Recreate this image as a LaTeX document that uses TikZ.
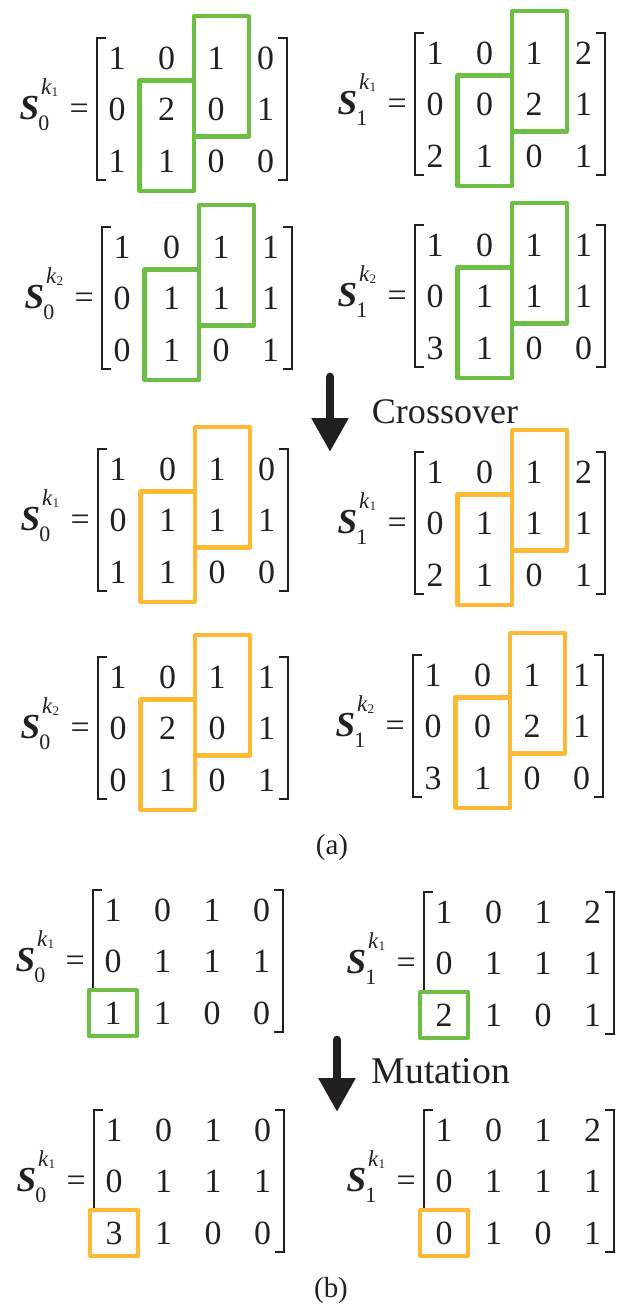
\documentclass[tikz,border=0pt]{standalone}
\usepackage{fontspec}
\setmainfont{Liberation Serif}
\usetikzlibrary{arrows.meta}
\definecolor{palG}{HTML}{6DBE45}
\definecolor{palO}{HTML}{FDB933}
\definecolor{ink}{HTML}{231F20}
\pgfdeclarelayer{bg}
\pgfdeclarelayer{mid}
\pgfsetlayers{bg,mid,main}

% S with sub- and superscript, then "="
\newcommand{\slab}[2]{%
  {\fontsize{20}{22}\selectfont\bfseries\itshape S}\kern1pt%
  \rlap{\kern-1.5pt\raisebox{-6pt}{\fontsize{12.5}{14}\selectfont #1}}%
  \raisebox{14.5pt}{\fontsize{13}{14}\selectfont\itshape k\kern0.2pt\raisebox{-1.2pt}{\fontsize{7.5}{8}\selectfont\upshape #2}}%
  \hspace{6.5pt}=}

% name, x0, y0, sub, k, row 0, row 1, row 2
\newcommand{\smat}[8]{%
  \foreach \rowlist [count=\ri from 0] in {{#6},{#7},{#8}} {
    \foreach \val [count=\ci from 0] in \rowlist
      \node[entry] (#1-\ri-\ci) at ({#2+\ci*\dx}, {#3+\ri*\dy}) {\val};
  }
  \begin{pgfonlayer}{bg}
    \draw[brk] ({#2-11}, {#3-20}) -| ({#2-20}, {#3+122}) -- ++(9,0);
    \draw[brk] ({#2+161}, {#3-20}) -| ({#2+170}, {#3+122}) -- ++(-9,0);
  \end{pgfonlayer}
  \node[entry, anchor=base east] (#1-lab) at ({#2-28}, {#3+\dy+10}) {\slab{#4}{#5}};
}

% the two crossed column pieces
\newcommand{\swapbox}[2]{%
  \draw[#2] ([shift={(-22,-42)}]#1-0-2.center) rectangle ([shift={(33,27)}]#1-1-2.center);
  \draw[#2] ([shift={(-27,-29)}]#1-1-1.center) rectangle ([shift={(-22,30)}]#1-2-2.center);
}

% one mutated cell
\newcommand{\cellbox}[2]{%
  \begin{pgfonlayer}{mid}
    \draw[#2, fill=white] ([shift={(-24,-23)}]#1-2-0.center) rectangle ([shift={(24,23)}]#1-2-0.center);
  \end{pgfonlayer}
}

\begin{document}
\begin{tikzpicture}[
    x=0.02cm, y=-0.02cm,
    entry/.style={font=\fontsize{19.3}{21}\selectfont, inner sep=0pt, text=ink},
    brk/.style={draw=ink, line width=0.9pt},
    gbox/.style={draw=palG, line width=2.3pt, line join=round},
    obox/.style={draw=palO, line width=2.3pt, line join=round},
    steplbl/.style={font=\fontsize{20.5}{24}\selectfont, inner sep=0pt, text=ink},
    down/.style={draw=ink, line width=5pt, line cap=round,
        -{Triangle[length=0.68cm, width=0.7cm]}},
]
\def\dx{49.5}
\def\dy{51.5}
\useasboundingbox (0,0) rectangle (616,1306);

% (a) before crossover
\smat{m1}{117}{58}{0}{1}{1,0,1,0}{0,2,0,1}{1,1,0,0}
\smat{m2}{435}{53}{1}{1}{1,0,1,2}{0,0,2,1}{2,1,0,1}
\smat{m3}{122}{247}{0}{2}{1,0,1,1}{0,1,1,1}{0,1,0,1}
\smat{m4}{435}{245}{1}{2}{1,0,1,1}{0,1,1,1}{3,1,0,0}
\swapbox{m1}{gbox}
\swapbox{m2}{gbox}
\swapbox{m3}{gbox}
\swapbox{m4}{gbox}

% Crossover arrow
\coordinate (xo-top) at (330,377);
\coordinate (xo-tip) at (330,452);
\draw[down] (xo-top) -- (xo-tip);
\node[steplbl] (xo-lab) at (445,412) {Crossover};

% (a) after crossover
\smat{m5}{118}{469}{0}{1}{1,0,1,0}{0,1,1,1}{1,1,0,0}
\smat{m6}{435}{472}{1}{1}{1,0,1,2}{0,1,1,1}{2,1,0,1}
\smat{m7}{118}{677}{0}{2}{1,0,1,1}{0,2,0,1}{0,1,0,1}
\smat{m8}{433}{675}{1}{2}{1,0,1,1}{0,0,2,1}{3,1,0,0}
\swapbox{m5}{obox}
\swapbox{m6}{obox}
\swapbox{m7}{obox}
\swapbox{m8}{obox}

\node[entry, font=\fontsize{16.5}{18}\selectfont] (cap-a) at (332,848) {(a)};

% (b) mutation
\smat{m9}{113}{910}{0}{1}{1,0,1,0}{0,1,1,1}{1,1,0,0}
\smat{m10}{444}{912}{1}{1}{1,0,1,2}{0,1,1,1}{2,1,0,1}
\cellbox{m9}{gbox}
\cellbox{m10}{gbox}

\coordinate (mu-top) at (337,1040);
\coordinate (mu-tip) at (337,1112);
\draw[down] (mu-top) -- (mu-tip);
\node[steplbl, font=\fontsize{21.5}{24}\selectfont] (mu-lab) at (441,1071) {Mutation};

\smat{m11}{114}{1130}{0}{1}{1,0,1,0}{0,1,1,1}{3,1,0,0}
\smat{m12}{444}{1130}{1}{1}{1,0,1,2}{0,1,1,1}{0,1,0,1}
\cellbox{m11}{obox}
\cellbox{m12}{obox}

\node[entry, font=\fontsize{16.5}{18}\selectfont] (cap-b) at (331,1291) {(b)};
\end{tikzpicture}
\end{document}
